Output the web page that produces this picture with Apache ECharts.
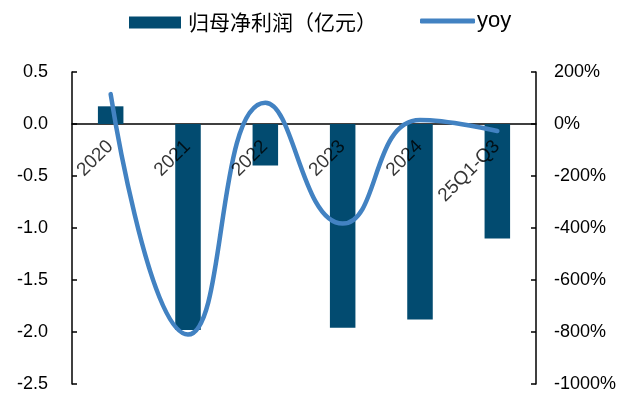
<!DOCTYPE html>
<html>
<head>
<meta charset="utf-8">
<script src="https://cdn.jsdelivr.net/npm/echarts@6/dist/echarts.min.js"></script>
<style>
html,body{margin:0;padding:0;background:#fff;}
#chart{width:635px;height:394px;}
</style>
</head>
<body>
<div id="chart"></div>
<script>
var categories = ['2020', '2021', '2022', '2023', '2024', '25Q1-Q3'];
var netProfit = [0.17, -1.98, -0.40, -1.96, -1.88, -1.10];
var yoy = [115, -810, 82, -383, 15, -27];
var barName = '归母净利润（亿元）';
var lineName = 'yoy';

var chart = echarts.init(document.getElementById('chart'), null, {renderer: 'canvas'});
var font = '"Liberation Sans", Arial, sans-serif';
chart.setOption({
  animation: false,
  backgroundColor: '#ffffff',
  legend: [{
    data: [barName],
    left: 129, top: 12, padding: 0,
    itemWidth: 52, itemHeight: 12,
    icon: 'rect',
    textStyle: {fontFamily: '"Noto Sans CJK SC", sans-serif', fontSize: 21, color: '#000', padding: [0, 0, 0, 2]}
  }, {
    data: [{name: lineName, icon: 'roundRect'}],
    left: 420, top: 10, padding: 0,
    itemWidth: 55, itemHeight: 5,
    itemStyle: {color: '#4282C2'},
    textStyle: {fontFamily: font, fontSize: 22, color: '#000', padding: [0, 0, 0, -3]}
  }],
  grid: {left: 72, right: 99, top: 72, bottom: 10, containLabel: false, outerBoundsMode: 'none'},
  xAxis: {
    type: 'category',
    data: categories,
    axisLine: {onZero: true, onZeroAxisIndex: 0, lineStyle: {color: '#000', width: 1.5}},
    axisTick: {inside: true, length: 5, lineStyle: {color: '#000', width: 1.5}},
    axisLabel: {show: false}
  },
  yAxis: [{
    type: 'value',
    min: -2.5, max: 0.5, interval: 0.5,
    splitLine: {show: false},
    axisLine: {show: true, lineStyle: {color: '#000', width: 1.5}},
    axisTick: {show: true, inside: true, length: 5, lineStyle: {color: '#000', width: 1.5}},
    axisLabel: {margin: 24, fontSize: 18, color: '#000', fontFamily: font,
      formatter: function (v) { return v.toFixed(1); }}
  }, {
    type: 'value',
    min: -1000, max: 200, interval: 200,
    splitLine: {show: false},
    axisLine: {show: true, lineStyle: {color: '#000', width: 1.5}},
    axisTick: {show: true, inside: true, length: 5, lineStyle: {color: '#000', width: 1.5}},
    axisLabel: {margin: 18, fontSize: 18, color: '#000', fontFamily: font,
      formatter: function (v) { return v + '%'; }}
  }],
  series: [{
    name: barName,
    type: 'bar',
    data: netProfit,
    barWidth: '33%',
    itemStyle: {color: '#024B70'},
    yAxisIndex: 0
  }, {
    name: lineName,
    type: 'line',
    data: yoy,
    yAxisIndex: 1,
    smooth: 0.5,
    symbol: 'none',
    lineStyle: {color: '#4282C2', width: 4.5, cap: 'round'},
    itemStyle: {color: '#4282C2'},
    z: 5
  }, {
    name: 'axisLabels',
    type: 'scatter',
    yAxisIndex: 0,
    data: categories.map(function (c) { return [c, 0]; }),
    symbolSize: 1,
    itemStyle: {color: 'rgba(0,0,0,0)'},
    silent: true,
    z: 10,
    label: {
      show: true,
      position: [0, 20],
      rotate: 45,
      align: 'right',
      verticalAlign: 'middle',
      fontSize: 19,
      fontFamily: font,
      color: '#000',
      formatter: function (p) { return p.value[0]; }
    }
  }]
});
</script>
</body>
</html>
